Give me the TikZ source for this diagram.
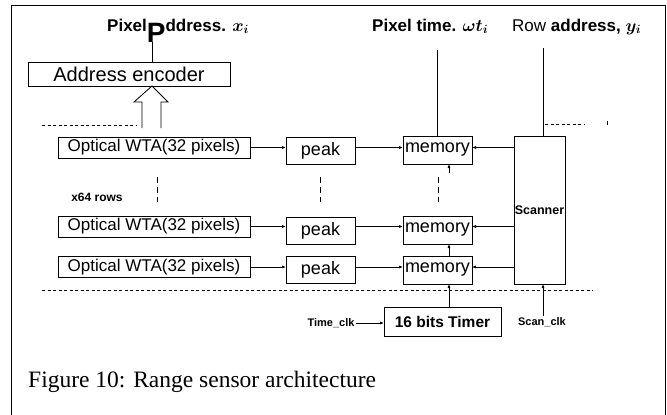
\documentclass[tikz,border=0pt]{standalone}
\usepackage{fontspec}
\setmainfont{Liberation Serif}
\setsansfont{Liberation Sans}
\usetikzlibrary{arrows.meta}

\begin{document}
\begin{tikzpicture}[x=1pt,y=-1pt,
box/.style={draw,line width=0.8pt,inner sep=0pt,outer sep=0pt},
lbl/.style={inner sep=0pt,font=\sffamily\bfseries\boldmath\fontsize{17}{17}\selectfont},
sml/.style={inner sep=1pt,font=\sffamily\bfseries\fontsize{11}{11}\selectfont},
wta/.style={box,minimum width=192pt,minimum height=21pt,font=\sffamily\fontsize{17}{17}\selectfont},
blk/.style={box,minimum width=69pt,minimum height=28pt,font=\sffamily\fontsize{18}{18}\selectfont},
arr/.style={line width=0.7pt,-{Latex[length=4pt,width=3pt]}},
dots/.style={line width=0.7pt,dash pattern=on 3pt off 2.5pt},
rows/.style={line width=0.7pt,dash pattern=on 6pt off 4pt}]
\useasboundingbox (0,0) rectangle (667,415);
% frame
\draw[line width=1pt] (11,415) -- (11,5) -- (665,5) -- (665,415);

% column labels
\node[lbl,anchor=base west] (pa) at (107,31) {Pixel\raisebox{-11pt}{\fontsize{28}{28}\selectfont P}ddress. $x_i$};
\node[lbl,anchor=base west] (pt) at (372,31) {Pixel time. $\omega t_i$};
\node[lbl,anchor=base west] (ra) at (512,31) {\mdseries Row \bfseries address, $y_i$};
\coordinate (pline) at (152,42);
\coordinate (tline) at (437,50);
\coordinate (rline) at (543,48);
\coordinate (tx) at (449,0);

\node[box,minimum width=202pt,minimum height=24pt,line width=1pt,font=\sffamily\fontsize{20}{20}\selectfont] (enc) at (129,74) {Address encoder};
\draw[line width=0.8pt] (pline) -- (enc.north -| pline);
\draw[line width=0.8pt] (142,128) -- (142,102) -- (134,102) -- (enc.south -| pline) -- (168,102) -- (161,102) -- (161,128);

% rows
\node[wta] (wta1) at (154,147.5) {Optical WTA(32 pixels)};
\node[wta] (wta2) at (154,226.5) {Optical WTA(32 pixels)};
\node[wta] (wta3) at (154,267) {Optical WTA(32 pixels)};
\node[blk,minimum height=27pt] (peak1) at (320.5,151) {peak};
\node[blk,minimum height=27pt] (peak2) at (320.5,230.5) {peak};
\node[blk,minimum height=27pt] (peak3) at (320.5,269.5) {peak};
\node[blk] (mem1) at (437.5,150) {memory};
\node[blk] (mem2) at (437.5,230) {memory};
\node[blk] (mem3) at (437.5,270) {memory};
\node[box,minimum width=51pt,minimum height=148pt,font=\sffamily\bfseries\fontsize{12.5}{12.5}\selectfont] (scan) at (539.5,210) {Scanner};
\node[sml,font=\sffamily\bfseries\fontsize{12}{12}\selectfont] (nrows) at (97,197) {x64 rows};

\foreach \r in {1,2,3}{
\draw[arr] (wta\r.east) -- (wta\r.east -| peak\r.west);
\draw[arr] (wta\r.east -| peak\r.east) -- (wta\r.east -| mem\r.west);
\draw[arr] (scan.west |- wta\r.east) -- (wta\r.east -| mem\r.east);
}
\draw[line width=0.8pt] (tline) -- (mem1.north -| tline);
\draw[line width=0.8pt] (rline) -- (scan.north -| rline);
\draw[rows] (157,177) -- (157,202);
\draw[rows] (320,177) -- (320,202);
\draw[rows] (438,177) -- (438,202);
\draw[arr] (449,173) -- (mem1.south -| tx);
\draw[arr] (mem3.north -| tx) -- (mem2.south -| tx);

% dotted bounds
\draw[dots] (42,125) -- (136,125);
\draw[dots] (545,124) -- (585,124);
\draw[line width=0.8pt] (607,121) -- (607,125);
\draw[dots] (42,290) -- (593,290);

% timer and clocks
\node[box,minimum width=117pt,minimum height=29pt,font=\sffamily\bfseries\fontsize{15.5}{15.5}\selectfont] (timer) at (442.5,321.5) {16 bits Timer};
\node[sml] (tclk) at (331,323) {Time\_clk};
\node[sml] (sclk) at (542,322) {Scan\_clk};
\draw[arr] (tclk.east) -- (tclk.east -| timer.west);
\draw[arr] (timer.north -| tx) -- (mem3.south -| tx);
\draw[arr] (sclk.north -| rline) -- (scan.south -| rline);

\node[anchor=base west,inner sep=0pt,font=\fontsize{23.5}{23.5}\selectfont] (cap) at (28,387) {Figure 10: Range sensor architecture};
\end{tikzpicture}
\end{document}
